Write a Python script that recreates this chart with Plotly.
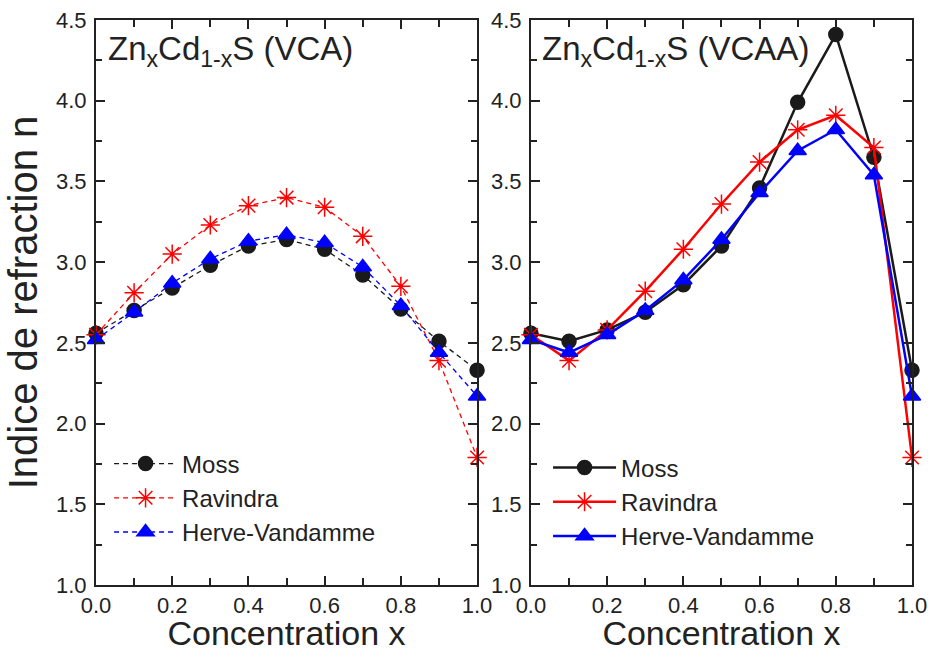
import plotly.graph_objects as go

x_conc = [0.0, 0.1, 0.2, 0.3, 0.4, 0.5, 0.6, 0.7, 0.8, 0.9, 1.0]

# VCA (left panel)
vca_moss = [2.56, 2.70, 2.84, 2.98, 3.10, 3.14, 3.08, 2.92, 2.71, 2.51, 2.33]
vca_ravindra = [2.55, 2.81, 3.05, 3.23, 3.35, 3.40, 3.34, 3.16, 2.85, 2.39, 1.79]
vca_herve = [2.52, 2.69, 2.87, 3.02, 3.13, 3.17, 3.12, 2.97, 2.73, 2.44, 2.17]

# VCAA (right panel)
vcaa_moss = [2.56, 2.51, 2.58, 2.69, 2.86, 3.10, 3.46, 3.99, 4.41, 3.65, 2.33]
vcaa_ravindra = [2.55, 2.39, 2.58, 2.82, 3.08, 3.36, 3.62, 3.82, 3.91, 3.71, 1.79]
vcaa_herve = [2.52, 2.44, 2.55, 2.70, 2.89, 3.14, 3.43, 3.69, 3.82, 3.54, 2.17]

series_names = ["Moss", "Ravindra", "Herve-Vandamme"]
colors = ["#1a1a1a", "#ff0000", "#0000ff"]
symbols = ["circle", "asterisk-open", "triangle-up"]
msizes = [14, 16, 15]

fig = go.Figure()

left = [vca_moss, vca_ravindra, vca_herve]
right = [vcaa_moss, vcaa_ravindra, vcaa_herve]

for i, name in enumerate(series_names):
    fig.add_trace(go.Scatter(
        x=x_conc, y=left[i], name=name, mode="lines+markers",
        line=dict(color=colors[i], width=1.3, dash="5px,4px"),
        marker=dict(symbol=symbols[i], size=msizes[i], color=colors[i],
                    line=dict(color=colors[i], width=1.5)),
        cliponaxis=False, xaxis="x", yaxis="y", legend="legend"))

for i, name in enumerate(series_names):
    fig.add_trace(go.Scatter(
        x=x_conc, y=right[i], name=name, mode="lines+markers",
        line=dict(color=colors[i], width=2.5),
        marker=dict(symbol=symbols[i], size=msizes[i], color=colors[i],
                    line=dict(color=colors[i], width=1.5)),
        cliponaxis=False, xaxis="x2", yaxis="y2", legend="legend2"))

font_family = "Liberation Sans, Arial, sans-serif"
axis_common = dict(
    showgrid=False, zeroline=False, showline=True, linecolor="#222222",
    linewidth=2, mirror="ticks", ticks="inside", tickcolor="#222222",
    tickwidth=1.5, ticklen=9, automargin=False,
    tickfont=dict(size=22, color="#222222", family=font_family),
)

xaxis_common = dict(axis_common, range=[0, 1], tickvals=[0, 0.2, 0.4, 0.6, 0.8, 1.0],
                    ticktext=["0.0", "0.2", "0.4", "0.6", "0.8", "1.0"],
                    minor=dict(tickvals=[0.1, 0.3, 0.5, 0.7, 0.9], ticks="inside",
                               ticklen=7, tickcolor="#222222", tickwidth=1.5),
                    title=dict(text="Concentration x", font=dict(size=34, color="#222222", family=font_family),
                               standoff=2),
                    ticklabelstandoff=0)
yaxis_common = dict(axis_common, range=[1.0, 4.5], tickvals=[1.0, 1.5, 2.0, 2.5, 3.0, 3.5, 4.0, 4.5],
                    ticktext=["1.0", "1.5", "2.0", "2.5", "3.0", "3.5", "4.0", "4.5"],
                    minor=dict(tickvals=[1.25, 1.75, 2.25, 2.75, 3.25, 3.75, 4.25], ticks="inside",
                               ticklen=6, tickcolor="#222222", tickwidth=1.5),
                    ticklabelstandoff=3)

fig.update_layout(
    width=928, height=652,
    margin=dict(l=96, r=16, t=20, b=67),
    paper_bgcolor="white", plot_bgcolor="white",
    font=dict(family=font_family, color="#222222"),
    xaxis=dict(xaxis_common, domain=[0, 0.467], anchor="y"),
    yaxis=dict(yaxis_common, domain=[0, 1], anchor="x",
               title=dict(text="Indice de refraction n", font=dict(size=40, color="#222222", family=font_family),
                          standoff=6)),
    xaxis2=dict(xaxis_common, domain=[0.533, 1], anchor="y2"),
    yaxis2=dict(yaxis_common, domain=[0, 1], anchor="x2"),
    legend=dict(x=0.016, y=0.254, xanchor="left", yanchor="top", bgcolor="rgba(0,0,0,0)",
                font=dict(size=24, color="#222222", family=font_family), itemwidth=63,
                tracegroupgap=4),
    legend2=dict(x=0.554, y=0.247, xanchor="left", yanchor="top", bgcolor="rgba(0,0,0,0)",
                 font=dict(size=24, color="#222222", family=font_family), itemwidth=63,
                 tracegroupgap=4),
    showlegend=True,
    annotations=[
        dict(text="Zn<sub>x</sub>Cd<sub>1-x</sub>S (VCA)", xref="x domain", yref="y domain",
             x=0.025, y=0.985, xanchor="left", yanchor="top", showarrow=False,
             font=dict(size=33, color="#222222", family=font_family)),
        dict(text="Zn<sub>x</sub>Cd<sub>1-x</sub>S (VCAA)", xref="x2 domain", yref="y2 domain",
             x=0.025, y=0.985, xanchor="left", yanchor="top", showarrow=False,
             font=dict(size=33, color="#222222", family=font_family)),
    ],
)

fig.write_html("out.html")
